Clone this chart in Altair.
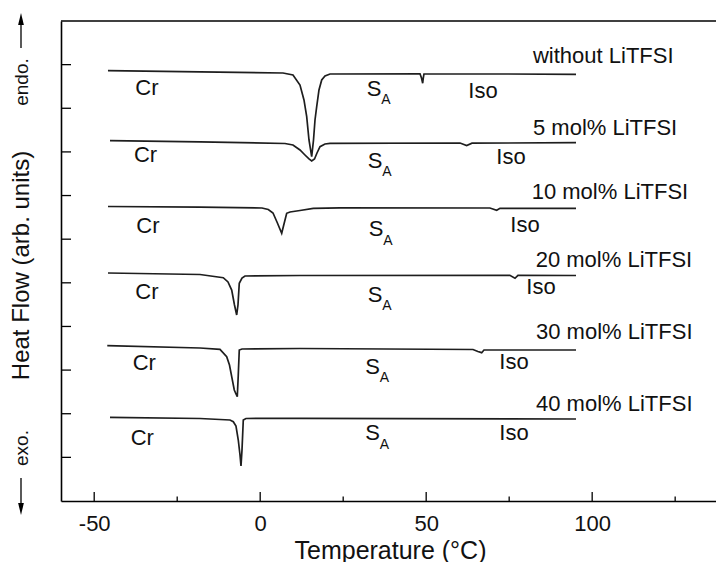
import altair as alt
import pandas as pd

# ---------------- data ----------------
series = ["without LiTFSI", "5 mol% LiTFSI", "10 mol% LiTFSI",
          "20 mol% LiTFSI", "30 mol% LiTFSI", "40 mol% LiTFSI"]

T_0 = [-45.85, -18.13, 6.87, 9.88, 11.99, 13.19, 14.01, 14.70, 15.51, 16.06, 16.51,
       17.02, 17.71, 18.53, 19.52, 21.03, 48.14, 48.59, 48.95, 49.13, 49.34, 72.23, 95.13]
H_0 = [9.865, 9.836, 9.808, 9.763, 9.533, 9.190, 8.807, 8.273, 7.890, 8.273, 8.731,
       9.036, 9.419, 9.648, 9.740, 9.786, 9.790, 9.694, 9.573, 9.694, 9.786, 9.786, 9.779]

T_5 = [-45.24, -18.13, 7.47, 9.88, 11.99, 13.49, 14.70, 15.51, 16.36, 17.11, 18.02,
       19.52, 21.03, 60.2, 62.2, 63.8, 95.13]
H_5 = [8.257, 8.232, 8.193, 8.159, 8.044, 7.929, 7.838, 7.792, 7.838, 7.975, 8.120,
       8.181, 8.197, 8.204, 8.147, 8.200, 8.211]

T_10 = [-45.85, -18.13, 0.54, 2.44, 3.86, 5.06, 6.48, 7.17, 7.98, 8.98, 11.99, 15.99,
        24.04, 69.2, 71.24, 72.23, 95.13]
H_10 = [6.749, 6.733, 6.715, 6.680, 6.600, 6.394, 6.135, 6.348, 6.593, 6.623, 6.658, 6.708,
        6.719, 6.715, 6.662, 6.708, 6.708]

T_20 = [-45.85, -18.13, -11.12, -9.70, -8.58, -7.74, -7.08, -6.69, -6.30, -5.48, -4.58,
        11.99, 75.2, 76.75, 77.65, 95.13]
H_20 = [5.225, 5.191, 5.117, 5.019, 4.835, 4.492, 4.263, 4.492, 4.989, 5.110, 5.156,
        5.168, 5.172, 5.104, 5.172, 5.168]

T_30 = [-46.06, -18.13, -12.11, -10.09, -9.25, -8.58, -7.80, -7.29, -6.90, -6.60, -6.30,
        -5.48, 11.99, 64.1, 65.58, 66.72, 67.41, 95.13]
H_30 = [3.559, 3.506, 3.476, 3.307, 3.117, 2.849, 2.544, 2.452, 2.390, 2.888, 3.460,
        3.483, 3.495, 3.472, 3.426, 3.399, 3.460, 3.460]

T_40 = [-45.24, -18.13, -9.10, -8.10, -7.29, -6.60, -6.08, -5.78, -5.48, -5.09, -4.28,
        11.99, 95.13]
H_40 = [1.918, 1.891, 1.856, 1.817, 1.719, 1.398, 1.054, 0.802, 1.169, 1.856, 1.891,
        1.895, 1.879]

# annotation anchors (data coordinates)
name_T = [82.17, 82.17, 81.78, 82.99, 83.08, 83.08]
name_H = [10.187, 8.559, 7.070, 5.523, 3.862, 2.223]
cr_T = [-34.10, -34.55, -33.80, -34.10, -34.91, -35.51]
cr_H = [9.476, 7.918, 6.302, 4.790, 3.173, 1.455]
sa_T = [34.28, 34.58, 34.88, 34.58, 33.83, 33.83]
sa_H = [9.442, 7.803, 6.233, 4.721, 3.071, 1.547]
iso_T = [67.11, 75.55, 79.77, 84.58, 76.45, 76.45]
iso_H = [9.407, 7.872, 6.325, 4.904, 3.185, 1.558]

x_major = [-50, 0, 50, 100]
x_minor = [-25, 25, 75, 125]
y_ticks = [1, 2, 3, 4, 5, 6, 7, 8, 9, 10]

# ---------------- build tables ----------------
rows = []
for name, ts, hs in zip(series, [T_0, T_5, T_10, T_20, T_30, T_40],
                        [H_0, H_5, H_10, H_20, H_30, H_40]):
    for i, (t, h) in enumerate(zip(ts, hs)):
        rows.append({"series": name, "T": t, "H": h, "order": i})
curves = pd.DataFrame(rows)

names_df = pd.DataFrame({"T": name_T, "H": name_H, "text": series})
cr_df = pd.DataFrame({"T": cr_T, "H": cr_H, "text": ["Cr"] * 6})
sa_df = pd.DataFrame({"T": sa_T, "H": sa_H, "text": ["S"] * 6, "sub": ["A"] * 6})
iso_df = pd.DataFrame({"T": iso_T, "H": iso_H, "text": ["Iso"] * 6})

W, H = 655, 480
FONT = "Liberation Sans"
INK = "#111111"

xs = alt.Scale(domain=[-60, 137.3], nice=False, zero=False)
ys = alt.Scale(domain=[0, 11], nice=False, zero=False)

X_AXIS = alt.Axis(
    values=x_major, ticks=False, tickSize=0, grid=False, domain=True,
    domainColor="black", domainWidth=1.6, labelFont=FONT, labelFontSize=22,
    labelColor=INK, labelPadding=22, labelBaseline="middle", labelFlush=False,
    labelExpr="'' + datum.value",
    title="Temperature (°C)", titleFont=FONT, titleFontSize=25,
    titleFontWeight="normal", titleColor=INK, titleBaseline="middle",
    titleX=329, titleY=49, titleAnchor="start", titleAlign="center",
)
Y_AXIS = alt.Axis(
    labels=False, ticks=False, tickSize=0, grid=False, domain=True,
    domainColor="black", domainWidth=1.6,
    title="Heat Flow (arb. units)", titleFont=FONT, titleFontSize=24,
    titleFontWeight="normal", titleColor=INK, titleBaseline="middle",
    titleAngle=270, titleX=-39.5, titleY=244, titleAlign="center",
)


def X(field):
    return alt.X(field, scale=xs, axis=X_AXIS, title="Temperature (°C)")


def Y(field):
    return alt.Y(field, scale=ys, axis=Y_AXIS, title="Heat Flow (arb. units)")


lines = alt.Chart(curves).mark_line(strokeWidth=1.7, color="#1e1e1e").encode(
    x=X("T:Q"), y=Y("H:Q"), detail="series:N", order="order:Q",
)


def txt(df, **kw):
    return alt.Chart(df).mark_text(font=FONT, fontSize=22, color=INK, **kw).encode(
        x=X("T:Q"), y=Y("H:Q"), text="text:N",
    )


name_layer = txt(names_df, align="left", baseline="middle")
cr_layer = txt(cr_df, align="center", baseline="middle")
s_layer = txt(sa_df, align="center", baseline="middle")
a_layer = alt.Chart(sa_df).mark_text(font=FONT, fontSize=14, color=INK, align="center",
                                     baseline="middle", dx=12, dy=11.5).encode(
    x=X("T:Q"), y=Y("H:Q"), text="sub:N",
)
iso_layer = txt(iso_df, align="center", baseline="middle")

# inward ticks
ytick_layer = alt.Chart(pd.DataFrame({"T": [0] * len(y_ticks), "H": y_ticks})).mark_rule(
    color="black", strokeWidth=1.3).encode(
    y=Y("H:Q"), x=alt.value(0), x2=alt.value(10))
xmaj_layer = alt.Chart(pd.DataFrame({"T": x_major})).mark_rule(
    color="black", strokeWidth=1.3).encode(
    x=X("T:Q"), y=alt.value(H), y2=alt.value(H - 9))
xmin_layer = alt.Chart(pd.DataFrame({"T": x_minor})).mark_rule(
    color="black", strokeWidth=1.3).encode(
    x=X("T:Q"), y=alt.value(H), y2=alt.value(H - 4.5))

one = pd.DataFrame({"k": [0]})
top_border = alt.Chart(one).mark_rule(color="black", strokeWidth=1.6).encode(
    y=alt.value(0), x=alt.value(0), x2=alt.value(W + 5))

# endo / exo annotations left of the axis
endo_txt = alt.Chart(pd.DataFrame({"text": ["endo."]})).mark_text(
    font=FONT, fontSize=19, color=INK, angle=270, align="center", baseline="middle").encode(
    x=alt.value(-39.5), y=alt.value(61), text="text:N")
exo_txt = alt.Chart(pd.DataFrame({"text": ["exo."]})).mark_text(
    font=FONT, fontSize=19, color=INK, angle=270, align="center", baseline="middle").encode(
    x=alt.value(-39.5), y=alt.value(427), text="text:N")
up_line = alt.Chart(one).mark_rule(color="black", strokeWidth=1.3).encode(
    x=alt.value(-40), y=alt.value(27), y2=alt.value(2))
down_line = alt.Chart(one).mark_rule(color="black", strokeWidth=1.3).encode(
    x=alt.value(-40), y=alt.value(457), y2=alt.value(484))
up_head = alt.Chart(one).mark_point(
    shape="M0,-1L0.48,1L-0.48,1Z", filled=True, color="black", size=144, opacity=1).encode(
    x=alt.value(-40), y=alt.value(-2))
down_head = alt.Chart(one).mark_point(
    shape="M0,1L0.48,-1L-0.48,-1Z", filled=True, color="black", size=144, opacity=1).encode(
    x=alt.value(-40), y=alt.value(488))

chart = alt.layer(
    lines, ytick_layer, xmaj_layer, xmin_layer, top_border,
    name_layer, cr_layer, s_layer, a_layer, iso_layer,
    endo_txt, exo_txt, up_line, down_line, up_head, down_head,
).properties(
    width=W, height=H,
    autosize=alt.AutoSizeParams(type="none"),
    padding={"left": 61, "top": 21, "right": 0, "bottom": 61},
    background="white",
).configure_view(stroke=None)

chart.save("out.html", embed_options={"renderer": "svg", "actions": False})
